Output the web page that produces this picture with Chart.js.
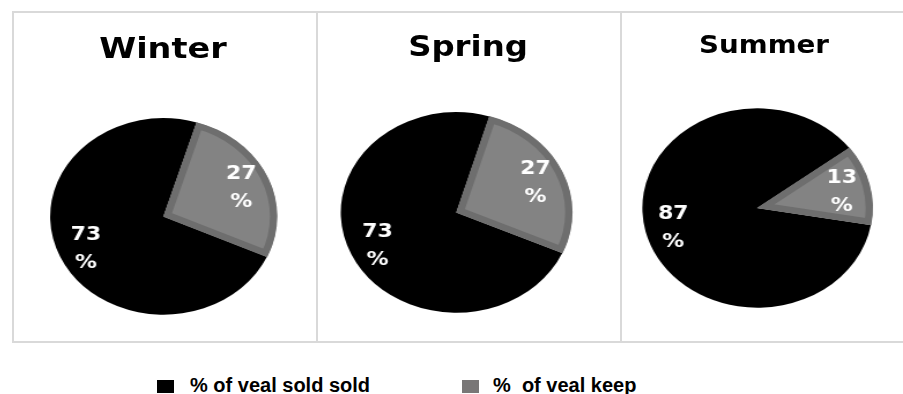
<!DOCTYPE html>
<html lang="en">
<head>
  <meta charset="UTF-8">
  <title>Veal sold vs keep by season</title>
  <script src="https://cdn.jsdelivr.net/npm/chart.js"></script>
  <style>
    body { margin: 0; width: 903px; height: 394px; overflow: hidden; background: #fff; position: relative; }
    .panel { position: absolute; top: 11px; height: 328px; border: 2px solid #d9d9d9; border-right: none; }
    .wrap { position: absolute; top: 11px; width: 263px; height: 332px; transform: scaleX(1.155); transform-origin: 0 0; }
    .wrap canvas { position: absolute; left: 0; top: 0; }
    .title { position: absolute; width: 263px; text-align: center; font-family: "DejaVu Sans", sans-serif; font-weight: bold; line-height: 1; color: #000; white-space: nowrap; }
    .legend { position: absolute; top: 374px; font: bold 20px "Liberation Sans", Arial, sans-serif; color: #000; white-space: pre; }
    .legend span.box { position: absolute; top: 6px; width: 17px; height: 13px; }
  </style>
</head>
<body>

<div class="panel" style="left:12px; width:302px"></div>
<div class="panel" style="left:316px; width:302px"></div>
<div class="panel" style="left:620px; width:300px"></div>

<div id="charts"></div>

<div class="legend" style="left:157px"><span class="box" style="left:0; background:#000"></span><span id="lg0" style="position:absolute; left:33px"></span></div>
<div class="legend" style="left:462px"><span class="box" style="left:0; background:#797777"></span><span id="lg1" style="position:absolute; left:31px"></span></div>

<script>
  // data
  const seasons = ['Winter', 'Spring', 'Summer'];
  const seriesLabels = ['% of veal sold sold', '%  of veal keep'];
  const soldPct = [73, 73, 87];
  const keepPct = [27, 27, 13];

  // panel layout (page x of panel, pie centre/radius in unstretched canvas px)
  const panelLeft = [12, 316, 620];
  const pieCenter = [[131.2, 205.5], [121.6, 201.5], [119, 197]];
  const pieRadius = [98.5, 100.5, 100];
  const keepStartDeg = [17, 16.6, 53];
  const titleSize = [29, 28, 24];
  const titleTop = [22.5, 22.3, 21.7];
  const titleCenterX = [130.7, 131.6, 124.7];

  const W = 263, H = 332;

  document.getElementById('lg0').textContent = seriesLabels[0];
  document.getElementById('lg1').textContent = seriesLabels[1];

  // white "NN" over "%" labels inside each slice
  const sliceLabels = {
    id: 'sliceLabels',
    afterDatasetsDraw(chart) {
      const ctx = chart.ctx;
      const meta = chart.getDatasetMeta(0);
      const values = chart.data.datasets[0].data;
      ctx.save();
      ctx.fillStyle = '#ffffff';
      ctx.font = 'bold 19px "DejaVu Sans"';
      ctx.textAlign = 'center';
      ctx.textBaseline = 'middle';
      meta.data.forEach((arc, i) => {
        const p = arc.getProps(['x', 'y', 'startAngle', 'endAngle', 'outerRadius'], true);
        const mid = (p.startAngle + p.endAngle) / 2;
        const r = p.outerRadius * 0.75;
        const x = p.x + Math.cos(mid) * r;
        const y = p.y + Math.sin(mid) * r + 2;
        ctx.fillText(String(values[i]), x, y - 14);
        ctx.fillText('%', x, y + 14);
      });
      ctx.restore();
    }
  };

  const holder = document.getElementById('charts');

  seasons.forEach((season, i) => {
    const wrap = document.createElement('div');
    wrap.className = 'wrap';
    wrap.style.left = panelLeft[i] + 'px';

    const title = document.createElement('div');
    title.className = 'title';
    title.textContent = season;
    title.style.fontSize = titleSize[i] + 'px';
    title.style.top = titleTop[i] + 'px';
    title.style.left = (titleCenterX[i] - W / 2) + 'px';
    wrap.appendChild(title);

    const canvas = document.createElement('canvas');
    canvas.width = W;
    canvas.height = H;
    wrap.appendChild(canvas);
    holder.appendChild(wrap);

    const [cx, cy] = pieCenter[i];
    const r = pieRadius[i];

    new Chart(canvas, {
      type: 'pie',
      data: {
        labels: seriesLabels,
        datasets: [{
          data: [soldPct[i], keepPct[i]],
          backgroundColor: ['#000000', '#838383'],
          borderColor: ['#000000', '#6e6e6e'],
          borderWidth: [0, 6],
          borderAlign: 'inner'
        }]
      },
      options: {
        responsive: false,
        animation: false,
        rotation: keepStartDeg[i] - soldPct[i] * 3.6,
        radius: r,
        layout: {
          padding: {
            left: cx - r - 2,
            right: W - (cx + r + 2),
            top: cy - r - 2,
            bottom: H - (cy + r + 2)
          }
        },
        plugins: {
          legend: { display: false },
          tooltip: { enabled: false },
          title: { display: false }
        }
      },
      plugins: [sliceLabels]
    });
  });
</script>
</body>
</html>
